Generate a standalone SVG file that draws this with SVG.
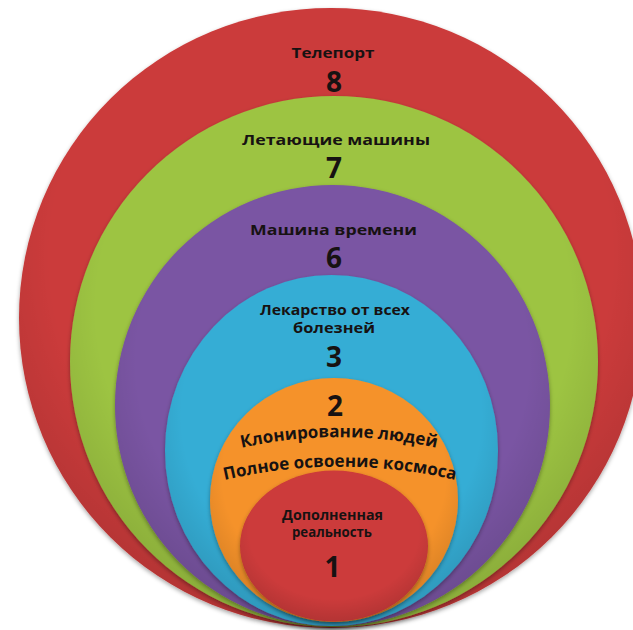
<svg xmlns="http://www.w3.org/2000/svg" width="633" height="630" viewBox="0 0 633 630">
<style>
.lbl{font-family:"Open Sans",Lato,"Liberation Sans",sans-serif;font-weight:700;fill:#171212;text-anchor:middle}
.t{font-size:15px}
.n{font-size:28px}
</style>
<defs>
<filter id="sh" x="-10%" y="-10%" width="120%" height="120%">
<feDropShadow dx="0" dy="2" stdDeviation="2" flood-color="#000" flood-opacity="0.35"/>
</filter>
<radialGradient id="shade" cx="50%" cy="40%" r="60%">
<stop offset="0.75" stop-color="#000" stop-opacity="0"/>
<stop offset="1" stop-color="#000" stop-opacity="0.12"/>
</radialGradient>
<path id="arc1" d="M 190 462.5 A 451 451 0 0 1 488 462.5"/>
<path id="arc2" d="M 190 489.5 A 504 504 0 0 1 490 489.5"/>
</defs>
<rect width="633" height="630" fill="#ffffff"/>
<g id="n8">
<ellipse cx="331" cy="318" rx="312" ry="310" fill="#cb3b3a" filter="url(#sh)"/>
<ellipse cx="331" cy="318" rx="312" ry="310" fill="url(#shade)"/>
<text class="lbl t" x="333" y="58" textLength="83" lengthAdjust="spacingAndGlyphs">Телепорт</text>
<text class="lbl n" x="334" y="92">8</text>
</g>
<g id="n7">
<ellipse cx="334" cy="361.5" rx="264" ry="265.5" fill="#9dc443" filter="url(#sh)"/>
<ellipse cx="334" cy="361.5" rx="264" ry="265.5" fill="url(#shade)"/>
<text class="lbl t" x="336" y="145" textLength="188" lengthAdjust="spacingAndGlyphs">Летающие машины</text>
<text class="lbl n" x="334" y="178">7</text>
</g>
<g id="n6">
<ellipse cx="332.5" cy="405.5" rx="217.5" ry="220.5" fill="#7a54a3" filter="url(#sh)"/>
<ellipse cx="332.5" cy="405.5" rx="217.5" ry="220.5" fill="url(#shade)"/>
<text class="lbl t" x="333.5" y="235" textLength="167" lengthAdjust="spacingAndGlyphs">Машина времени</text>
<text class="lbl n" x="334" y="268">6</text>
</g>
<g id="n3">
<ellipse cx="331.5" cy="450.5" rx="166.5" ry="175.5" fill="#35add5" filter="url(#sh)"/>
<ellipse cx="331.5" cy="450.5" rx="166.5" ry="175.5" fill="url(#shade)"/>
<text class="lbl t" x="335" y="315" textLength="150" lengthAdjust="spacingAndGlyphs" style="font-size:14.5px">Лекарство от всех</text>
<text class="lbl t" x="334" y="333" textLength="82" lengthAdjust="spacingAndGlyphs" style="font-size:14.5px">болезней</text>
<text class="lbl n" x="334" y="367">3</text>
</g>
<g id="n2">
<ellipse cx="334" cy="500" rx="124" ry="122" fill="#f5922a" filter="url(#sh)"/>
<ellipse cx="334" cy="500" rx="124" ry="122" fill="url(#shade)"/>
<text class="lbl n" x="335" y="416">2</text>
<text class="lbl" style="font-size:17px"><textPath href="#arc1" startOffset="50%">Клонирование людей</textPath></text>
<text class="lbl" style="font-size:17px"><textPath href="#arc2" startOffset="50%">Полное освоение космоса</textPath></text>
</g>
<g id="n1">
<ellipse cx="334" cy="546" rx="94" ry="75.5" fill="#cc3a3a" filter="url(#sh)"/>
<ellipse cx="334" cy="546" rx="94" ry="75.5" fill="url(#shade)"/>
<text class="lbl t" x="332.5" y="520" textLength="101" lengthAdjust="spacingAndGlyphs" style="font-size:13.5px">Дополненная</text>
<text class="lbl t" x="332" y="537" textLength="80" lengthAdjust="spacingAndGlyphs" style="font-size:13.5px">реальность</text>
<text class="lbl n" x="332.5" y="577">1</text>
</g>
<g id="connectors"/>
</svg>
